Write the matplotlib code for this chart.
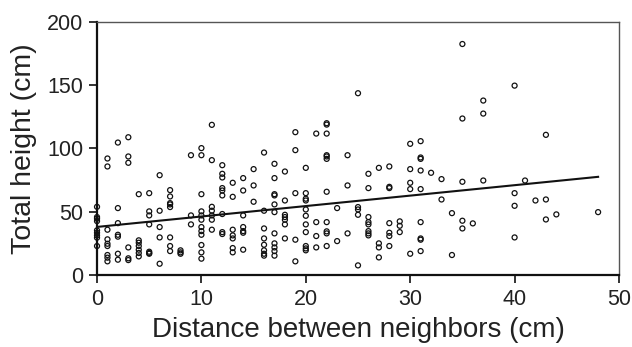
import matplotlib
matplotlib.use("Agg")
import matplotlib.pyplot as plt
import numpy as np

plt.rcParams['font.family'] = ['Liberation Sans', 'DejaVu Sans']

distance_cm = (
    [0]*9 + [1]*9 + [2]*7 + [3]*6 + [4]*7 + [5]*7 + [6]*5 + [7]*8 + [8]*3 + [9]*3 +
    [10]*12 + [11]*7 + [12]*9 + [13]*7 + [14]*7 + [15]*3 + [16]*8 + [17]*11 + [18]*7 +
    [19]*5 + [20]*11 + [21]*4 + [22]*11 + [23]*2 + [24]*3 + [25]*5 + [26]*8 + [27]*4 +
    [28]*7 + [29]*3 + [30]*5 + [31]*9 + [32]*1 + [33]*2 + [34]*2 + [35]*5 + [36]*1 +
    [37]*3 + [40]*4 + [41]*1 + [42]*1 + [43]*3 + [44]*1 + [48]*1
)
height_cm = [
    53.9, 45.8, 44.5, 42.6, 35.3, 33.4, 31.3, 29.5, 22.9,
    92.1, 85.8, 35.8, 28.2, 24.7, 22.9, 15.8, 13.7, 10.8,
    104.7, 52.9, 41.0, 31.8, 30.3, 16.8, 12.1,
    108.9, 93.7, 88.7, 21.8, 13.2, 11.8,
    63.9, 27.4, 25.5, 22.9, 20.0, 17.4, 14.7,
    64.7, 50.3, 47.1, 40.0, 18.4, 17.4, 16.8,
    78.9, 50.8, 37.9, 29.7, 8.9,
    67.1, 62.1, 56.8, 55.8, 53.7, 29.7, 22.9, 18.9,
    19.5, 17.9, 16.8,
    94.7, 47.1, 40.0,
    100.3, 94.7, 63.9, 50.3, 47.1, 43.7, 37.9, 34.7, 31.8, 23.7, 17.9, 12.9,
    118.7, 90.8, 53.9, 50.8, 47.1, 43.7, 35.8,
    86.8, 80.0, 77.1, 68.7, 66.8, 62.9, 48.2, 33.9, 32.4,
    72.9, 61.8, 35.8, 31.3, 28.9, 21.3, 17.9,
    76.6, 66.8, 47.1, 37.9, 34.7, 33.4, 20.0,
    83.7, 70.8, 57.9,
    96.8, 50.8, 36.8, 28.9, 23.9, 19.5, 16.8, 15.3,
    87.9, 76.6, 63.9, 62.9, 55.8, 49.7, 32.9, 25.0, 21.8, 18.9, 15.3,
    81.8, 58.9, 47.6, 45.8, 43.7, 40.0, 28.9,
    112.9, 98.7, 64.7, 27.9, 10.8,
    84.7, 64.7, 60.3, 58.9, 51.8, 46.8, 40.0, 33.9, 22.9, 21.0, 19.5,
    111.8, 41.8, 30.8, 21.8,
    120.0, 118.9, 111.8, 94.7, 93.7, 91.8, 65.8, 41.8, 34.5, 32.9, 22.9,
    52.9, 26.8,
    94.7, 70.8, 32.9,
    143.7, 53.7, 51.8, 47.6, 7.6,
    80.0, 68.7, 45.8, 41.8, 40.0, 34.7, 32.9, 31.3,
    84.7, 25.0, 21.8, 13.9,
    85.8, 69.7, 68.7, 41.0, 33.4, 30.8, 22.9,
    42.4, 38.9, 33.9,
    103.7, 83.7, 72.9, 67.9, 16.8,
    105.8, 92.9, 91.8, 82.6, 67.9, 41.8, 28.9, 27.9, 18.9,
    80.8,
    75.8, 59.7,
    48.9, 15.8,
    182.6, 123.7, 73.7, 42.9, 36.8,
    40.8,
    137.9, 127.6, 74.7,
    149.7, 64.7, 54.7, 29.7,
    74.7,
    58.9,
    110.8, 59.7, 43.9,
    47.9,
    49.7,
]

fit_x = [0, 48]
fit_intercept = 38.0
fit_slope = 0.825

x_ticks = [0, 10, 20, 30, 40, 50]
y_ticks = [0, 50, 100, 150, 200]

fig = plt.figure(figsize=(6.32, 3.47), dpi=100)
ax = fig.add_axes([0.1535, 0.2075, 0.8259, 0.7291])

ax.scatter(distance_cm, height_cm, s=13, facecolors='none', edgecolors='#111111',
           linewidths=0.9, zorder=3, clip_on=False)
fx = np.array(fit_x, dtype=float)
ax.plot(fx, fit_intercept + fit_slope * fx, color='#111111', lw=1.5, zorder=2)

ax.set_xlim(0, 50)
ax.set_ylim(0, 200)
ax.set_xticks(x_ticks)
ax.set_yticks(y_ticks)
ax.tick_params(direction='out', length=6, width=1.2, labelsize=15.5,
               labelcolor='#222222', color='#111111', pad=4)

for s in ['left', 'bottom']:
    ax.spines[s].set_linewidth(1.6)
    ax.spines[s].set_color('#111111')
for s in ['top', 'right']:
    ax.spines[s].set_linewidth(1.0)
    ax.spines[s].set_color('#555555')

ax.set_xlabel('Distance between neighbors (cm)', fontsize=20, color='#222222', labelpad=5)
ax.set_ylabel('Total height (cm)', fontsize=20.5, color='#222222', labelpad=7)

fig.savefig('out.png', dpi=100)
